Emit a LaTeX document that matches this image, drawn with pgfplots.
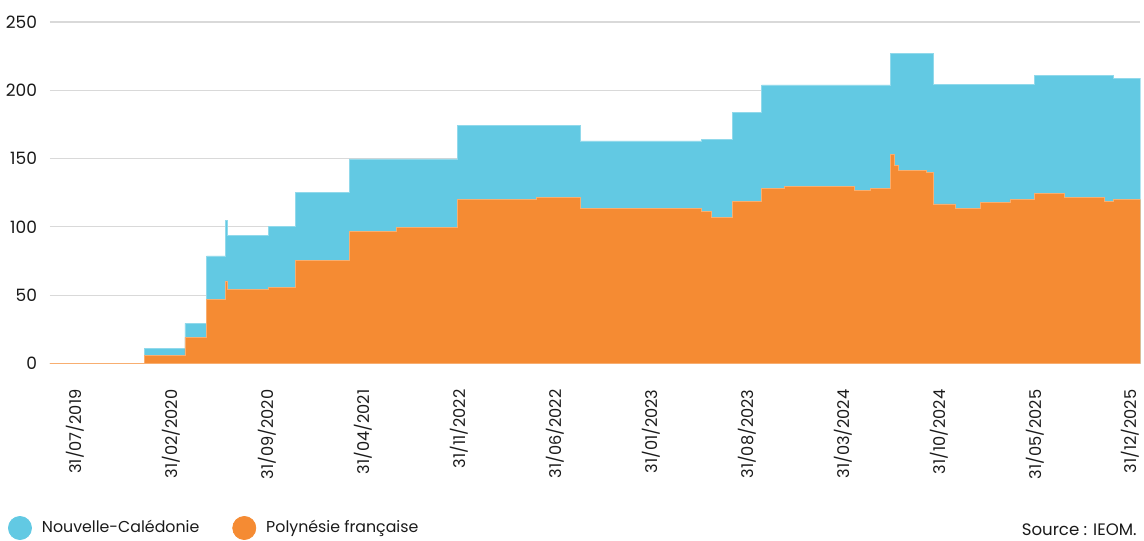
\documentclass[border=0pt]{standalone}
\usepackage{pgfplots}
\pgfplotsset{compat=1.18}
\usepackage{pgfplotstable}
\usepackage{fontspec}
\setmainfont{Poppins}
\definecolor{ncblue}{HTML}{62C9E3}
\definecolor{pforange}{HTML}{F58B33}
\definecolor{gridgray}{HTML}{D9D9D9}
\definecolor{txt}{HTML}{1A1A1A}

\pgfplotstableread{
m pf nc
-1.86 0 0
5.00 6.0 5.3
7.99 19.2 10.2
9.57 47.2 31.5
10.96 60.4 44.6
11.11 54.3 39.3
14.05 55.8 44.4
16.07 75.3 49.7
19.98 96.8 53.0
23.44 99.9 49.9
27.89 120.2 54.2
33.65 121.4 53.0
36.85 113.6 49.3
45.69 111.6 52.7
46.42 107.0 57.3
47.96 118.5 65.6
50.07 128.3 75.6
51.72 129.9 74.0
56.83 126.8 77.1
58.00 128.3 75.6
59.46 153.2 73.9
59.78 144.9 82.2
60.04 141.4 85.7
62.06 139.7 87.4
62.57 116.8 87.6
64.20 113.6 90.8
66.05 118.2 86.2
68.19 119.9 84.5
69.99 124.8 85.9
72.13 121.7 89.0
75.05 118.5 92.2
75.73 119.9 89.1
77.70 119.9 89.1
}\data

\begin{document}
\begin{tikzpicture}[x=1pt,y=1pt]
\begin{axis}[
  at={(0,0)}, anchor=south west,
  scale only axis, width=545.15pt, height=170.75pt,
  xmin=-1.86, xmax=77.70, ymin=0, ymax=250,
  axis line style={draw=none},
  major tick length=0pt,
  ymajorgrids, grid style={gridgray, line width=0.6pt},
  ytick={0,50,...,250},
  xtick={0,7,...,77},
  xticklabels={31/07/2019,31/02/2020,31/09/2020,31/04/2021,31/11/2022,31/06/2022,31/01/2023,31/08/2023,31/03/2024,31/10/2024,31/05/2025,31/12/2025},
  x tick label style={rotate=90, anchor=east, font=\fontsize{8.1}{10}\selectfont, text=txt, xshift=-9.5pt},
  y tick label style={font=\fontsize{8.5}{10}\selectfont, text=txt, xshift=-3pt},
  /pgf/number format/assume math mode=true,
  legend columns=2,
  legend style={draw=none, fill=none, inner sep=0pt, outer sep=0pt,
    at={(axis description cs:-0.0385,-0.4817)}, anchor=west,
    font=\fontsize{7.9}{10}\selectfont, text=txt,
    nodes={inner sep=0pt},
    /tikz/every odd column/.append style={column sep=5pt},
    /tikz/every even column/.append style={column sep=16.5pt}},
  legend cell align=left,
]
\addplot[const plot, fill=ncblue, draw=ncblue!70!white, line width=0.35pt,
  legend image code/.code={\fill[ncblue] (5.8pt,0pt) circle (5.8pt);}]
  table[x=m, y expr=\thisrow{pf}+\thisrow{nc}] {\data} \closedcycle;
\addlegendentry{Nouvelle-Calédonie}
\addplot[const plot, fill=pforange, draw=pforange!70!white, line width=0.35pt,
  legend image code/.code={\fill[pforange] (5.8pt,0pt) circle (5.8pt);}]
  table[x=m, y=pf] {\data} \closedcycle;
\addlegendentry{Polynésie française}
\end{axis}
\node[anchor=east, inner sep=0pt, font=\fontsize{8.3}{10}\selectfont, text=txt] at (543.5pt,-83.25pt) {Source : IEOM.};
\pgfresetboundingbox
\useasboundingbox (-25pt,-88.25pt) rectangle (547pt,181.75pt);
\end{tikzpicture}
\end{document}
